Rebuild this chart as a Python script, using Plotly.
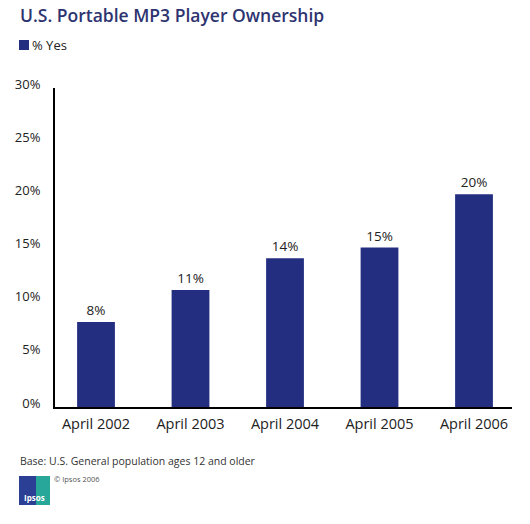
import plotly.graph_objects as go

# data
periods = ["April 2002", "April 2003", "April 2004", "April 2005", "April 2006"]
pct_yes = [8, 11, 14, 15, 20]
y_ticks = [0, 5, 10, 15, 20, 25, 30]

BAR = "#232e80"
NAVY = "#2e3470"
TEXT = "#222222"
FONT = "Open Sans, sans-serif"

W, H = 530, 524
# plot area in pixels: x 55..512, y 88..407
L, R, T, B = 55, W - 512, 88, H - 407
PW, PH = W - L - R, H - T - B


def px_x(px):
    return (px - L) / PW


def px_y(py):
    return (H - B - py) / PH


fig = go.Figure()
fig.add_trace(go.Bar(
    x=periods, y=pct_yes, name="% Yes",
    marker=dict(color=BAR, line=dict(width=0)),
    width=0.4,
    text=[f"{v}%" for v in pct_yes], texttemplate="%{text}",
    textposition="outside", cliponaxis=False,
    textfont=dict(size=13.5, color=TEXT, family=FONT),
    showlegend=False,
))

fig.update_layout(
    width=W, height=H,
    margin=dict(l=L, r=R, t=T, b=B),
    paper_bgcolor="white", plot_bgcolor="white",
    font=dict(family=FONT, color=TEXT),
    title=dict(text="U.S. Portable MP3 Player Ownership",
               font=dict(size=17.5, color=NAVY, family=FONT, weight=600),
               xref="container", yref="container",
               x=20 / W, xanchor="left",
               y=1 - 10 / H, yanchor="top",
               pad=dict(t=0, l=0)),
    showlegend=False,
)

fig.update_xaxes(
    range=[-0.434, 4.402], showline=True, linecolor="black", linewidth=2,
    ticks="", showgrid=False, tickfont=dict(size=14.5, color=TEXT, family=FONT),
    ticklabelstandoff=3, fixedrange=True,
)
fig.update_yaxes(
    range=[0, 30], tickvals=y_ticks, ticktext=[f"{v}%" for v in y_ticks],
    showline=True, linecolor="black", linewidth=2, showgrid=False,
    zeroline=False, ticks="", tickfont=dict(size=13, color=TEXT, family=FONT),
    ticklabelstandoff=10, ticklabelshift=-4, fixedrange=True,
)

# legend swatch and label
fig.add_shape(type="rect", xref="paper", yref="paper",
              x0=px_x(19), x1=px_x(29), y0=px_y(50), y1=px_y(40),
              fillcolor=BAR, line=dict(width=0))
fig.add_annotation(text="% Yes", xref="paper", yref="paper",
                   x=px_x(31), y=px_y(45), xanchor="left", yanchor="middle",
                   showarrow=False, borderpad=0,
                   font=dict(size=13, color=TEXT, family=FONT))

fig.add_annotation(text="Base: U.S. General population ages 12 and older",
                   xref="paper", yref="paper", x=px_x(18), y=px_y(461),
                   xanchor="left", yanchor="middle", showarrow=False,
                   font=dict(size=10.5, color="#333333", family=FONT))
fig.add_annotation(text="© Ipsos 2006",
                   xref="paper", yref="paper", x=px_x(52), y=px_y(479),
                   xanchor="left", yanchor="middle", showarrow=False,
                   font=dict(size=7.5, color="#555555", family=FONT))

# Ipsos logo block
fig.add_shape(type="rect", xref="paper", yref="paper",
              x0=px_x(19), x1=px_x(50), y0=px_y(505), y1=px_y(476),
              fillcolor="#2b3f95", line=dict(width=0), layer="above")
fig.add_shape(type="rect", xref="paper", yref="paper",
              x0=px_x(36), x1=px_x(50), y0=px_y(505), y1=px_y(476),
              fillcolor="#27a69a", line=dict(width=0), layer="above")
fig.add_annotation(text="<b>Ipsos</b>", xref="paper", yref="paper",
                   x=px_x(34.5), y=px_y(497), xanchor="center", yanchor="middle",
                   showarrow=False, font=dict(size=8, color="white", family=FONT))

# drop the default 8px page margin so the figure sits in the corner
fig.write_html("out.html", config={"displayModeBar": False},
               post_script="document.body.style.margin = '0';")
